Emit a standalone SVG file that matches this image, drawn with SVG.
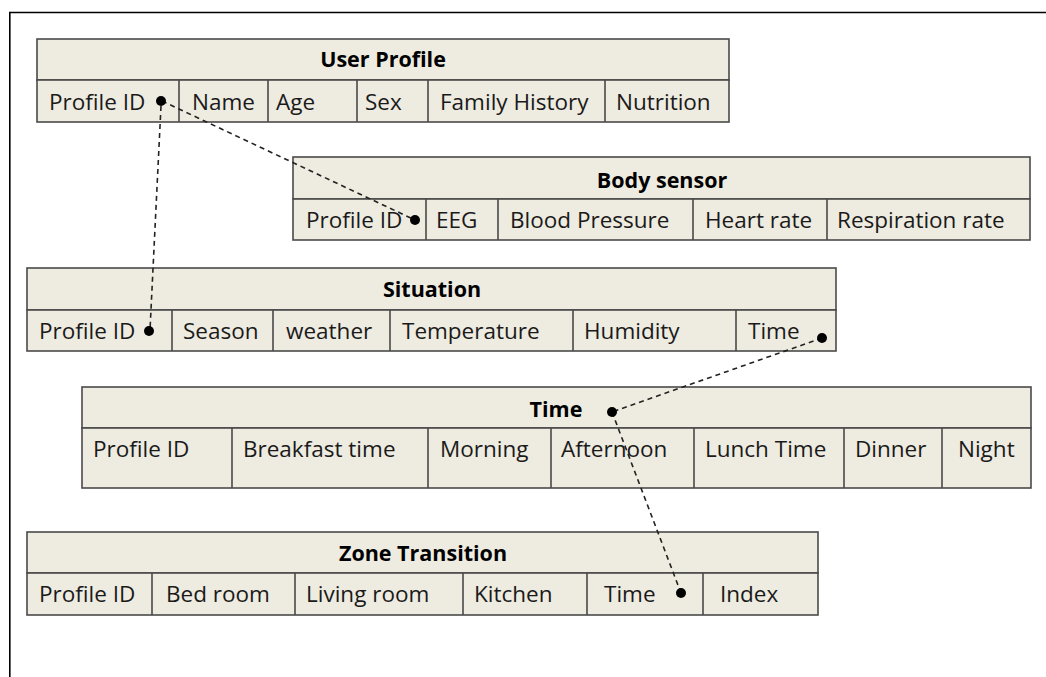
<svg xmlns="http://www.w3.org/2000/svg" width="1046" height="677" viewBox="0 0 1046 677">
<style>
.frame{stroke:#000;stroke-width:1.6;fill:none}
.cell{fill:#EEEBE0;stroke:#4a4a4a;stroke-width:1.6}
.div{stroke:#4a4a4a;stroke-width:1.6}
.t{font-family:"Open Sans","Liberation Sans",sans-serif;font-size:22.5px;fill:#1a1a1a}
.h{font-family:"Open Sans","Liberation Sans",sans-serif;font-size:21.5px;font-weight:bold;fill:#000;text-anchor:middle}
.dash{stroke:#222;stroke-width:1.6;stroke-dasharray:5 4;fill:none}
.dot{fill:#000}
</style>
<rect width="1046" height="677" fill="#fff"/>
<path class="frame" d="M9.8,677 V12.5 H1046"/>

<g id="user-profile">
<rect class="cell" x="37" y="39" width="692" height="41"/>
<rect class="cell" x="37" y="80" width="692" height="42"/>
<path class="div" d="M179,80V122M268,80V122M357,80V122M428,80V122M605,80V122"/>
<text class="h" x="383" y="67">User Profile</text>
<text class="t" x="49" y="110">Profile ID</text>
<text class="t" x="192" y="110">Name</text>
<text class="t" x="276" y="110">Age</text>
<text class="t" x="365" y="110">Sex</text>
<text class="t" x="440" y="110">Family History</text>
<text class="t" x="616" y="110">Nutrition</text>
</g>

<g id="body-sensor">
<rect class="cell" x="293" y="157" width="737" height="42"/>
<rect class="cell" x="293" y="199" width="737" height="41"/>
<path class="div" d="M426,199V240M498,199V240M693,199V240M827,199V240"/>
<text class="h" x="662" y="188">Body sensor</text>
<text class="t" x="306" y="228">Profile ID</text>
<text class="t" x="436" y="228">EEG</text>
<text class="t" x="510" y="228">Blood Pressure</text>
<text class="t" x="705" y="228">Heart rate</text>
<text class="t" x="837" y="228">Respiration rate</text>
</g>

<g id="situation">
<rect class="cell" x="27" y="268" width="809" height="42"/>
<rect class="cell" x="27" y="310" width="809" height="41"/>
<path class="div" d="M172,310V351M273,310V351M390,310V351M573,310V351M736,310V351"/>
<text class="h" x="432" y="297">Situation</text>
<text class="t" x="39" y="339">Profile ID</text>
<text class="t" x="183" y="339">Season</text>
<text class="t" x="286" y="339">weather</text>
<text class="t" x="402" y="339">Temperature</text>
<text class="t" x="584" y="339">Humidity</text>
<text class="t" x="748" y="339">Time</text>
</g>

<g id="time">
<rect class="cell" x="82" y="387" width="949" height="41"/>
<rect class="cell" x="82" y="428" width="949" height="60"/>
<path class="div" d="M232,428V488M428,428V488M551,428V488M694,428V488M844,428V488M942,428V488"/>
<text class="h" x="556" y="417">Time</text>
<text class="t" x="93" y="457">Profile ID</text>
<text class="t" x="243" y="457">Breakfast time</text>
<text class="t" x="440" y="457">Morning</text>
<text class="t" x="561" y="457">Afternoon</text>
<text class="t" x="705" y="457">Lunch Time</text>
<text class="t" x="855" y="457">Dinner</text>
<text class="t" x="958" y="457">Night</text>
</g>

<g id="zone-transition">
<rect class="cell" x="27" y="532" width="791" height="41"/>
<rect class="cell" x="27" y="573" width="791" height="42"/>
<path class="div" d="M152,573V615M295,573V615M463,573V615M587,573V615M703,573V615"/>
<text class="h" x="423" y="561">Zone Transition</text>
<text class="t" x="39" y="602">Profile ID</text>
<text class="t" x="166" y="602">Bed room</text>
<text class="t" x="306" y="602">Living room</text>
<text class="t" x="474" y="602">Kitchen</text>
<text class="t" x="604" y="602">Time</text>
<text class="t" x="720" y="602">Index</text>
</g>

<g id="connectors">
<line class="dash" x1="162" y1="101" x2="415" y2="220"/>
<line class="dash" x1="161" y1="106" x2="150" y2="330"/>
<line class="dash" x1="822" y1="338" x2="612" y2="412"/>
<line class="dash" x1="612" y1="412" x2="681" y2="593"/>
<circle class="dot" cx="161" cy="101" r="5"/>
<circle class="dot" cx="415" cy="220" r="5"/>
<circle class="dot" cx="149" cy="331" r="5"/>
<circle class="dot" cx="822" cy="338" r="5"/>
<circle class="dot" cx="612" cy="412" r="5"/>
<circle class="dot" cx="681" cy="593" r="5"/>
</g>
</svg>
